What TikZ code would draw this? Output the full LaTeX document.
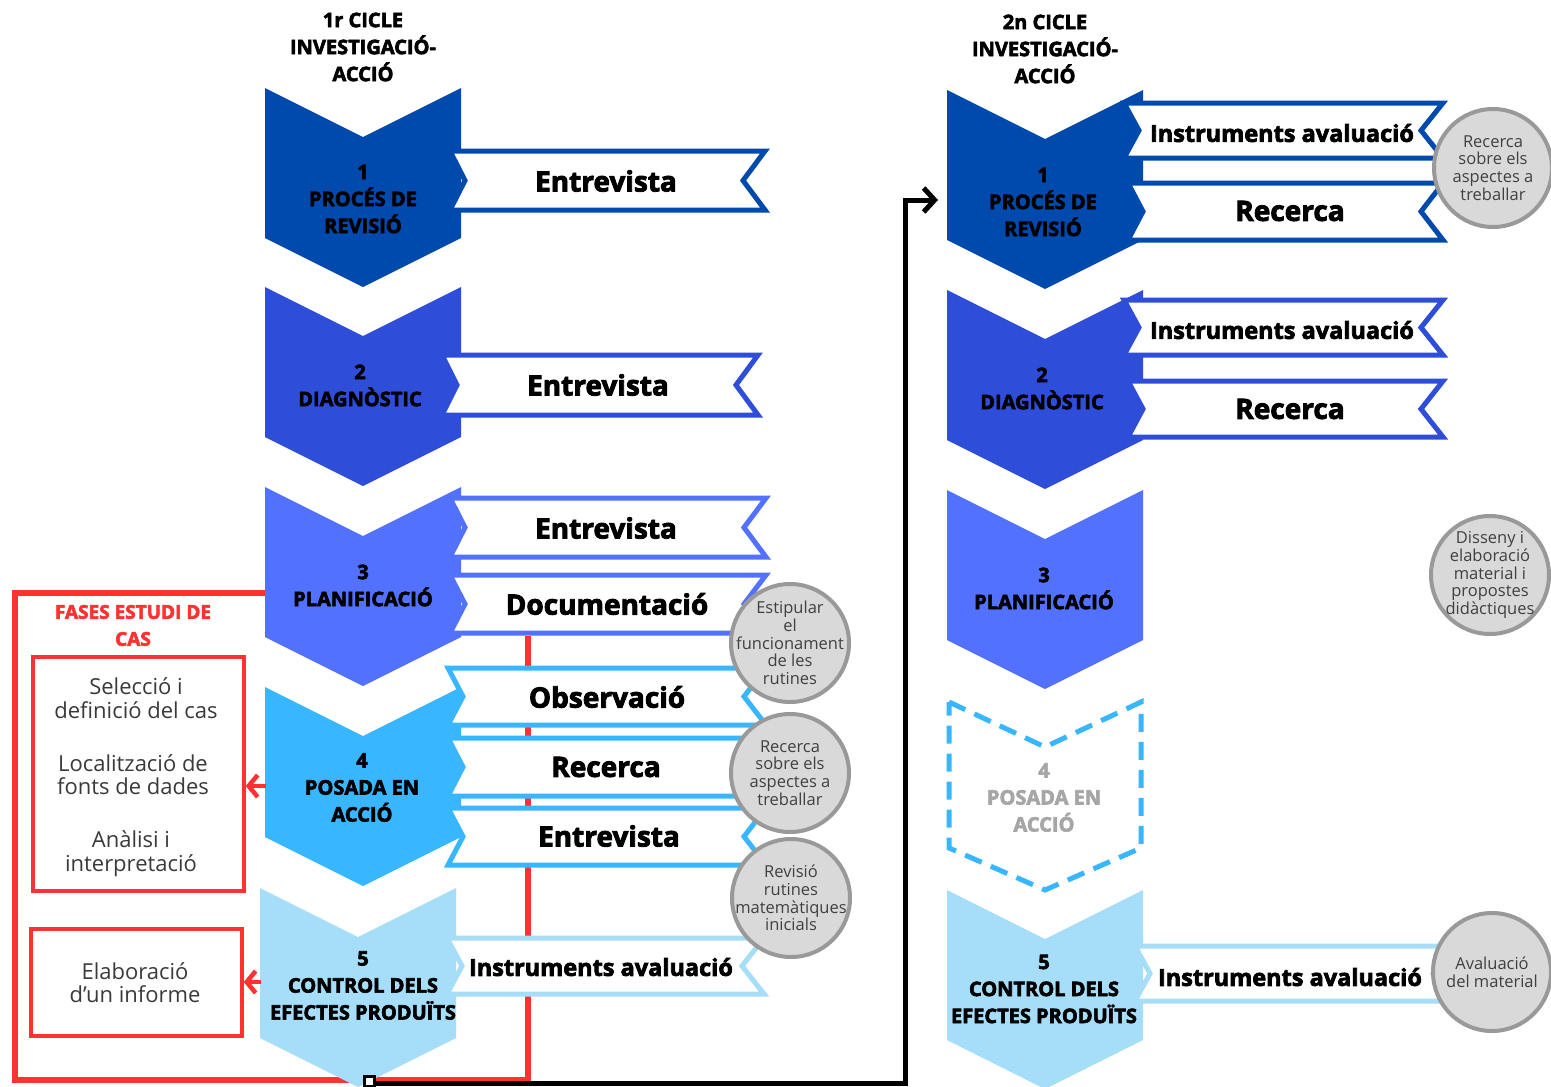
\documentclass[tikz,border=0pt]{standalone}
\usepackage{fontspec}
\setmainfont{Open Sans}[BoldFeatures={FakeBold=3}]
\usetikzlibrary{arrows.meta,calc}
\definecolor{cA}{HTML}{004AAD}
\definecolor{cB}{HTML}{2E4DD8}
\definecolor{cC}{HTML}{5271FF}
\definecolor{cD}{HTML}{38B6FF}
\definecolor{cE}{HTML}{A6DDF8}
\definecolor{cred}{HTML}{FF3131}
\definecolor{cgray}{HTML}{999999}
\definecolor{cfill}{HTML}{D9D9D9}
\definecolor{ctext}{HTML}{404040}
\definecolor{btext}{HTML}{3A3A3A}
\definecolor{cdim}{HTML}{A6A6A6}
\newcommand{\chevshape}[3]{%
  \fill[#3] (#1,#2) -- ({#1+98},{#2+49}) -- ({#1+196},#2) -- ({#1+196},{#2+150}) -- ({#1+98},{#2+199}) -- (#1,{#2+150}) -- cycle;}
\newcommand{\bnr}[5]{%
  \draw[draw=#5, fill=white, line width=5pt] (#1,#2) -- (#4,#2) -- ({#4-22},{(#2+#3)/2}) -- (#4,#3) -- (#1,#3) -- ({#1+15},{(#2+#3)/2}) -- cycle;}
\begin{document}
\begin{tikzpicture}[x=1pt,y=-1pt,
  ct/.style={font=\bfseries\fontsize{20}{27}\selectfont, align=center, inner sep=0pt, text=black},
  bt/.style={font=\bfseries\fontsize{28}{30}\selectfont, inner sep=0pt},
  bts/.style={font=\bfseries\fontsize{23.5}{26}\selectfont, inner sep=0pt},
  circ/.style={circle, draw=cgray, fill=cfill, line width=4pt, minimum size=118pt, inner sep=0pt},
  circtext/.style={font=\fontsize{16.5}{17.8}\selectfont, text=ctext, align=center, inner sep=0pt},
  redbox/.style={draw=cred, line width=3.5pt, inner sep=0pt},
  boxtext/.style={font=\fontsize{22}{23.5}\selectfont, text=btext, align=center, inner sep=0pt},
  redline/.style={draw=cred, line width=6pt},
  redarrow/.style={draw=cred, line width=4.5pt, -{Straight Barb[length=9pt,width=22pt]}},
  blackline/.style={draw=black, line width=5pt, -{Straight Barb[length=11pt,width=24pt]}}
]
\useasboundingbox[fill=white] (0,0) rectangle (1551,1087);

% red frame and vertical line (behind)
\coordinate (rf1) at (270,593);
\coordinate (rf2) at (15,593);
\coordinate (rf3) at (15,1080);
\coordinate (rf4) at (528,1080);
\coordinate (rf5) at (528,636);
\draw[redline] (rf1) -- (rf2) -- (rf3) -- (rf4) -- (rf5);

% titles
\node[ct] (title1) at (363,47) {1r CICLE\\INVESTIGACIÓ-\\ACCIÓ};
\node[ct] (title2) at (1045,49) {2n CICLE\\INVESTIGACIÓ-\\ACCIÓ};

% chevrons cycle 1
\chevshape{265}{88}{cA}
\chevshape{265}{287}{cB}
\chevshape{265}{487}{cC}
\chevshape{265}{687}{cD}
\chevshape{260}{888}{cE}
% chevrons cycle 2
\chevshape{947}{90}{cA}
\chevshape{947}{290}{cB}
\chevshape{947}{490}{cC}
\draw[cD, line width=5pt, dash pattern=on 18pt off 10pt] (949,702) -- (1045,747) -- (1141,702) -- (1141,848) -- (1045,890) -- (949,848) -- cycle;
\chevshape{947}{890}{cE}

% banners cycle 1
\bnr{450}{151}{210}{765}{cA}
\bnr{442}{355}{415}{758}{cB}
\bnr{450}{498}{557}{766}{cC}
\bnr{450}{575}{633}{766}{cC}
\bnr{448}{668}{725}{766}{cD}
\bnr{448}{738}{796}{766}{cD}
\bnr{448}{808}{865}{766}{cD}
\bnr{447}{938}{994}{764}{cE}
% banners cycle 2
\bnr{1124}{103}{158}{1443}{cA}
\bnr{1128}{183}{240}{1443}{cA}
\bnr{1124}{300}{355}{1443}{cB}
\bnr{1128}{381}{437}{1443}{cB}
\bnr{1135}{946}{1001}{1455}{cE}

% chevron texts cycle 1
\node[ct] (k1) at (363,199) {1\\PROCÉS DE\\REVISIÓ};
\node[ct] (k2) at (360,385.5) {2\\DIAGNÒSTIC};
\node[ct] (k3) at (363,585.5) {3\\PLANIFICACIÓ};
\node[ct] (k4) at (362,787.5) {4\\POSADA EN\\ACCIÓ};
\node[ct] (k5) at (363,985.5) {5\\CONTROL DELS\\EFECTES PRODUÏTS};
% chevron texts cycle 2
\node[ct] (m1) at (1043,202) {1\\PROCÉS DE\\REVISIÓ};
\node[ct] (m2) at (1042,388.5) {2\\DIAGNÒSTIC};
\node[ct] (m3) at (1044,588.5) {3\\PLANIFICACIÓ};
\node[ct, text=cdim] (m4) at (1044,797.5) {4\\POSADA EN\\ACCIÓ};
\node[ct] (m5) at (1044,989) {5\\CONTROL DELS\\EFECTES PRODUÏTS};

% banner texts cycle 1
\node[bt] (b1) at (606,181) {Entrevista};
\node[bt] (b2) at (598,385) {Entrevista};
\node[bt] (b3) at (606,528) {Entrevista};
\node[bt] (b4) at (607,604) {Documentació};
\node[bt] (b5) at (607,697) {Observació};
\node[bt] (b6) at (606,767) {Recerca};
\node[bt] (b7) at (609,836) {Entrevista};
\node[bts] (b8) at (601,967) {Instruments avaluació};
% banner texts cycle 2
\node[bts] (d1) at (1282,133) {Instruments avaluació};
\node[bt] (d2) at (1290,211) {Recerca};
\node[bts] (d3) at (1282,330) {Instruments avaluació};
\node[bt] (d4) at (1290,409) {Recerca};
\node[bts] (d5) at (1290,977) {Instruments avaluació};

% circles
\node[circ] (c1) at (790,643) {};
\node[circtext] at (c1) {Estipular\\el\\funcionament\\de les\\rutines};
\node[circ] (c2) at (790,773) {};
\node[circtext] at (c2) {Recerca\\sobre els\\aspectes a\\treballar};
\node[circ] (c3) at (791,898) {};
\node[circtext] at (c3) {Revisió\\rutines\\matemàtiques\\inicials};
\node[circ] (c4) at (1493,168) {};
\node[circtext] at (c4) {Recerca\\sobre els\\aspectes a\\treballar};
\node[circ] (c5) at (1490,575) {};
\node[circtext] at (c5) {Disseny i\\elaboració\\material i\\propostes\\didàctiques};
\node[circ] (c6) at (1492,972) {};
\node[circtext] at (c6) {Avaluació\\del material};

% red section
\node[font=\bfseries\fontsize{19}{27}\selectfont, text=cred, align=center, inner sep=0pt] (fases) at (133,625.5) {FASES ESTUDI DE\\CAS};
\node[redbox, minimum width=211pt, minimum height=234pt] (box1) at (138.5,774) {};
\node[boxtext] (s1) at (136,698) {Selecció i\\definició del cas};
\node[boxtext] (s2) at (133,774.5) {Localització de\\fonts de dades};
\node[boxtext] (s3) at (131,853.5) {Anàlisi i\\interpretació};
\node[redbox, minimum width=211pt, minimum height=107pt] (box2) at (136.5,982.5) {};
\node[boxtext] (s4) at (135,982.5) {Elaboració\\d'un informe};
\coordinate (a4) at (266,786);
\coordinate (a5) at (261,982);
\draw[redarrow] (a4) -- (box1.east |- a4);
\draw[redarrow] (a5) -- (box2.east |- a5);

% black connector
\coordinate (bk1) at (905,1083);
\coordinate (bk2) at (905,200);
\coordinate (bk3) at (938,200);
\node[draw=black, fill=white, line width=3pt, minimum size=10pt, inner sep=0pt] (sq) at (369,1081) {};
\draw[blackline] (sq.east |- bk1) -- (bk1) -- (bk2) -- (bk3);
\end{tikzpicture}
\end{document}
